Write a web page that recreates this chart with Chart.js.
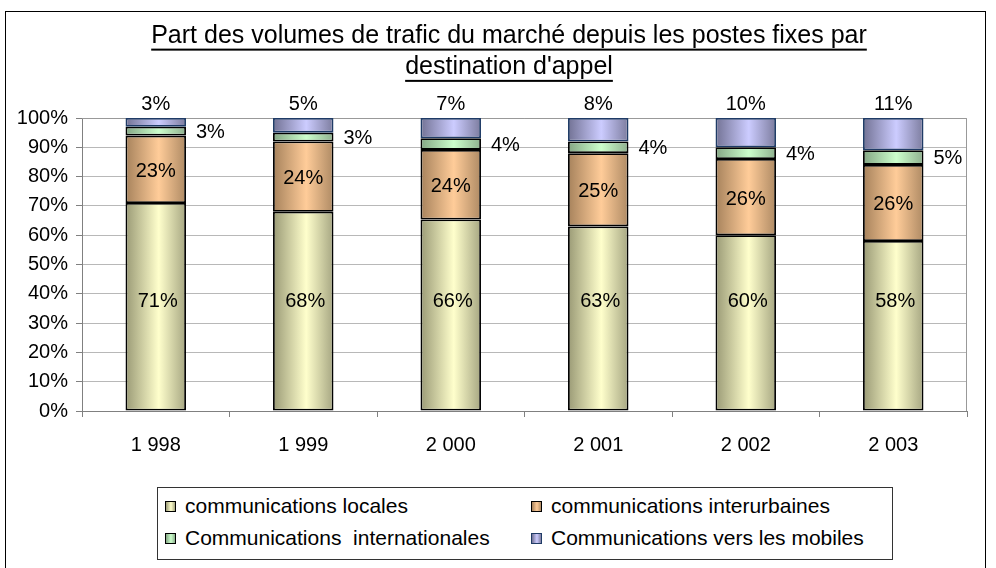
<!DOCTYPE html>
<html lang="fr">
<head>
<meta charset="utf-8">
<title>Part des volumes de trafic du marché</title>
<script src="https://cdn.jsdelivr.net/npm/chart.js@4.4.1/dist/chart.umd.min.js"></script>
<style>
  html, body { margin: 0; padding: 0; background: #fff; overflow: hidden; }
  #wrap { position: relative; width: 996px; height: 568px; }
  #frame { position: absolute; left: 5px; top: 11px; width: 981px; height: 600px; border: 1px solid #000; box-sizing: border-box; pointer-events: none; }
  #legend { position: absolute; left: 157px; top: 487px; width: 736px; height: 73px; border: 1px solid #333; box-sizing: border-box; background: #fff;
            font-family: 'Liberation Sans', Arial, sans-serif; font-size: 21px; color: #000; }
  .item { position: absolute; height: 24px; display: flex; align-items: center; white-space: nowrap; }
  .swatch { width: 9px; height: 9px; border: 1px solid #000; margin-right: 9px; }
</style>
</head>
<body>
<div id="wrap">
  <canvas id="chart" width="996" height="568"></canvas>
  <div id="frame"></div>
  <div id="legend"></div>
</div>
<script>
// Données (en %)
const years = ['1 998', '1 999', '2 000', '2 001', '2 002', '2 003'];
const seriesNames = [
  'communications locales',
  'communications interurbaines',
  'Communications  internationales',
  'Communications vers les mobiles'
];
const locales = [71, 68, 66, 63, 60, 58];
const interurbaines = [23, 24, 24, 25, 26, 26];
const internationales = [3, 3, 4, 4, 4, 5];
const mobiles = [3, 5, 7, 8, 10, 11];

// Couleurs (clair au centre, sombre sur les bords)
const palette = [
  { light: '#ffffcc', dark: '#9a9a76', edge: '#a6a682', border: '#000000' },
  { light: '#ffcc99', dark: '#a6825c', edge: '#ae8a64', border: '#000000' },
  { light: '#ccffcc', dark: '#84a684', edge: '#8eb08e', border: '#000000' },
  { light: '#ccccff', dark: '#727294', edge: '#7c7c9e', border: '#1f3b66' }
];

const BAR_PCT = 0.41;
const LOCAL_LABEL_AT = 37.5; // hauteur (en %) des étiquettes "locales"

const series = [locales, interurbaines, internationales, mobiles];
const totals = years.map((_, i) => series.reduce((s, arr) => s + arr[i], 0));

function barGradient(p) {
  return function(ctx) {
    const chart = ctx.chart;
    const xs = chart.scales.x;
    if (!xs || ctx.dataIndex === undefined) return p.light;
    const cx = xs.getPixelForValue(ctx.dataIndex);
    const half = xs.width / years.length * BAR_PCT / 2;
    if (!isFinite(cx) || !isFinite(half) || half <= 0) return p.light;
    const g = chart.ctx.createLinearGradient(cx - half, 0, cx + half, 0);
    g.addColorStop(0, p.dark);
    g.addColorStop(0.55, p.light);
    g.addColorStop(1, p.edge);
    return g;
  };
}

const datasets = series.map((values, k) => ({
  label: seriesNames[k],
  data: values.map((v, i) => v / totals[i] * 100),
  pct: values,
  backgroundColor: barGradient(palette[k]),
  borderColor: palette[k].border,
  borderWidth: 1.8,
  borderSkipped: false,
  inflateAmount: 0,
  categoryPercentage: 1,
  barPercentage: BAR_PCT
}));

// Étiquettes des segments
const segmentLabels = {
  id: 'segmentLabels',
  afterDatasetsDraw(chart) {
    const ctx = chart.ctx;
    const ys = chart.scales.y;
    ctx.save();
    ctx.font = '20px "Liberation Sans", Arial, sans-serif';
    ctx.fillStyle = '#000';
    ctx.textBaseline = 'middle';
    chart.data.datasets.forEach((ds, di) => {
      chart.getDatasetMeta(di).data.forEach((bar, i) => {
        const txt = ds.pct[i] + '%';
        const mid = (bar.y + bar.base) / 2;
        if (di === 0) {
          ctx.textAlign = 'center';
          ctx.fillText(txt, bar.x + 2, ys.getPixelForValue(LOCAL_LABEL_AT));
        } else if (di === 1) {
          ctx.textAlign = 'center';
          ctx.fillText(txt, bar.x, mid + 2);
        } else if (di === 2) {
          ctx.textAlign = 'left';
          ctx.fillText(txt, bar.x + bar.width / 2 + 10, mid + 1);
        } else {
          ctx.textAlign = 'center';
          ctx.fillText(txt, bar.x, bar.y - 14);
        }
      });
    });
    ctx.restore();
  }
};

// Cadre gris de la zone de tracé
const plotFrame = {
  id: 'plotFrame',
  beforeDatasetsDraw(chart) {
    const a = chart.chartArea;
    const ctx = chart.ctx;
    ctx.save();
    ctx.strokeStyle = '#999999';
    ctx.lineWidth = 1;
    ctx.beginPath();
    ctx.moveTo(a.left, a.top + 0.5);
    ctx.lineTo(a.right - 0.5, a.top + 0.5);
    ctx.lineTo(a.right - 0.5, a.bottom);
    ctx.stroke();
    ctx.restore();
  }
};

// Titre centré sur le cadre + soulignement
const TITLE_LEFT = 51;
const titleUnderline = {
  id: 'titleUnderline',
  afterLayout(chart) {
    if (chart.titleBlock) chart.titleBlock.left = TITLE_LEFT;
  },
  afterDraw(chart) {
    const t = chart.titleBlock;
    if (!t) return;
    const opts = chart.options.plugins.title;
    const font = Chart.helpers.toFont(opts.font);
    const ctx = chart.ctx;
    ctx.save();
    ctx.font = font.string;
    ctx.fillStyle = '#000';
    const cx = (t.left + t.right) / 2;
    let y = t.top + opts.padding.top + font.lineHeight / 2 + 13;
    opts.text.forEach(line => {
      const w = ctx.measureText(line).width;
      ctx.fillRect(cx - w / 2, y, w, 2);
      y += font.lineHeight;
    });
    ctx.restore();
  }
};

Chart.defaults.font.family = "'Liberation Sans', Arial, sans-serif";
Chart.defaults.color = '#000';

const chart = new Chart(document.getElementById('chart'), {
  type: 'bar',
  data: { labels: years, datasets: datasets },
  options: {
    responsive: false,
    animation: false,
    layout: { padding: { left: 0, right: 29, top: 0, bottom: 100 } },
    plugins: {
      legend: { display: false },
      tooltip: { enabled: false },
      title: {
        display: true,
        text: ['Part des volumes de trafic du marché depuis les postes fixes par', "destination d'appel"],
        font: { size: 25, weight: 'normal', lineHeight: 1.25 },
        color: '#000',
        padding: { top: 20, bottom: 35.5 }
      }
    },
    scales: {
      x: {
        stacked: true,
        afterFit(scale) { scale.height = 57; },
        grid: { display: true, drawOnChartArea: false, offset: true, tickLength: 6, tickColor: '#808080' },
        border: { color: '#808080' },
        ticks: { font: { size: 20 }, padding: 16, color: '#000', maxRotation: 0 }
      },
      y: {
        stacked: true,
        min: 0,
        max: 100,
        afterFit(scale) { scale.width = 82; },
        grid: { color: '#b8b8b8', tickLength: 6, tickColor: '#808080' },
        border: { color: '#808080' },
        ticks: {
          stepSize: 10,
          padding: 8,
          font: { size: 20 },
          color: '#000',
          callback: v => v + '%'
        }
      }
    }
  },
  plugins: [plotFrame, segmentLabels, titleUnderline]
});

// Légende HTML sur deux colonnes, construite depuis les jeux de données
const legendEl = document.getElementById('legend');
const colLeft = [7, 373];
const rowTop = [6, 38];
chart.data.datasets.forEach((ds, k) => {
  const p = palette[k];
  const item = document.createElement('div');
  item.className = 'item';
  item.style.left = colLeft[k % 2] + 'px';
  item.style.top = rowTop[Math.floor(k / 2)] + 'px';
  const sw = document.createElement('span');
  sw.className = 'swatch';
  sw.style.background = 'linear-gradient(to right, ' + p.dark + ', ' + p.light + ' 55%, ' + p.edge + ')';
  sw.style.borderColor = p.border;
  const label = document.createElement('span');
  label.textContent = ds.label;
  label.style.whiteSpace = 'pre';
  item.appendChild(sw);
  item.appendChild(label);
  legendEl.appendChild(item);
});
</script>
</body>
</html>
